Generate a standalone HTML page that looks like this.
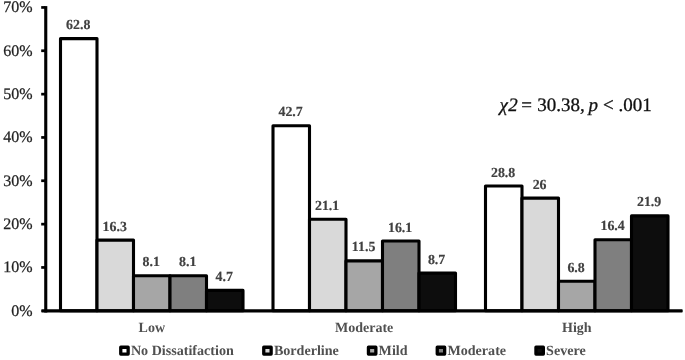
<!DOCTYPE html>
<html><head><meta charset="utf-8"><title>Chart</title>
<style>
html,body{margin:0;padding:0;background:#fff;}
svg{display:block;text-rendering:geometricPrecision;font-family:"Liberation Serif","Times New Roman",serif;}
.yl{font-size:16px;fill:#222;stroke:#222;stroke-width:0.25px;text-anchor:end;}
.dl{font-size:13.9px;font-weight:bold;fill:#404040;stroke:#404040;stroke-width:0.15px;text-anchor:middle;}
.cl{font-size:14px;font-weight:bold;fill:#505050;text-anchor:middle;}
.lg{font-size:14.1px;font-weight:bold;fill:#505050;}
.st{font-size:19px;fill:#111;stroke:#111;stroke-width:0.3px;}
</style></head><body>
<svg width="685" height="360" viewBox="0 0 685 360">
<rect width="685" height="360" fill="#fff"/>
<rect x="60.5" y="38.6" width="36.5" height="272.2" fill="#ffffff" stroke="#000" stroke-width="3.1" stroke-linejoin="round"/>
<text class="dl" x="78.2" y="28.6">62.8</text>
<rect x="97.0" y="240.1" width="36.5" height="70.7" fill="#d9d9d9" stroke="#000" stroke-width="3.1" stroke-linejoin="round"/>
<text class="dl" x="114.7" y="230.6">16.3</text>
<rect x="133.5" y="275.7" width="36.5" height="35.1" fill="#a6a6a6" stroke="#000" stroke-width="3.1" stroke-linejoin="round"/>
<text class="dl" x="151.2" y="266.2">8.1</text>
<rect x="170.0" y="275.7" width="36.5" height="35.1" fill="#7f7f7f" stroke="#000" stroke-width="3.1" stroke-linejoin="round"/>
<text class="dl" x="187.7" y="266.2">8.1</text>
<rect x="206.5" y="290.4" width="36.5" height="20.4" fill="#0d0d0d" stroke="#000" stroke-width="3.1" stroke-linejoin="round"/>
<text class="dl" x="224.2" y="280.9">4.7</text>
<text class="cl" x="151.8" y="332.3">Low</text>
<rect x="273.0" y="125.7" width="36.5" height="185.1" fill="#ffffff" stroke="#000" stroke-width="3.1" stroke-linejoin="round"/>
<text class="dl" x="290.6" y="116.2">42.7</text>
<rect x="309.5" y="219.3" width="36.5" height="91.5" fill="#d9d9d9" stroke="#000" stroke-width="3.1" stroke-linejoin="round"/>
<text class="dl" x="327.1" y="209.8">21.1</text>
<rect x="346.0" y="260.9" width="36.5" height="49.9" fill="#a6a6a6" stroke="#000" stroke-width="3.1" stroke-linejoin="round"/>
<text class="dl" x="363.6" y="251.4">11.5</text>
<rect x="382.5" y="241.0" width="36.5" height="69.8" fill="#7f7f7f" stroke="#000" stroke-width="3.1" stroke-linejoin="round"/>
<text class="dl" x="400.1" y="231.5">16.1</text>
<rect x="419.0" y="273.1" width="36.5" height="37.7" fill="#0d0d0d" stroke="#000" stroke-width="3.1" stroke-linejoin="round"/>
<text class="dl" x="436.6" y="263.6">8.7</text>
<text class="cl" x="364.2" y="332.3">Moderate</text>
<rect x="485.5" y="186.0" width="36.5" height="124.8" fill="#ffffff" stroke="#000" stroke-width="3.1" stroke-linejoin="round"/>
<text class="dl" x="503.1" y="176.5">28.8</text>
<rect x="522.0" y="198.1" width="36.5" height="112.7" fill="#d9d9d9" stroke="#000" stroke-width="3.1" stroke-linejoin="round"/>
<text class="dl" x="539.6" y="188.6">26</text>
<rect x="558.5" y="281.3" width="36.5" height="29.5" fill="#a6a6a6" stroke="#000" stroke-width="3.1" stroke-linejoin="round"/>
<text class="dl" x="576.1" y="271.8">6.8</text>
<rect x="595.0" y="239.7" width="36.5" height="71.1" fill="#7f7f7f" stroke="#000" stroke-width="3.1" stroke-linejoin="round"/>
<text class="dl" x="612.6" y="230.2">16.4</text>
<rect x="631.5" y="215.9" width="36.5" height="94.9" fill="#0d0d0d" stroke="#000" stroke-width="3.1" stroke-linejoin="round"/>
<text class="dl" x="649.1" y="206.4">21.9</text>
<text class="cl" x="576.8" y="332.3">High</text>
<rect x="44.2" y="6.1" width="3.1" height="306.4" fill="#000"/>
<rect x="41.2" y="309.2" width="641.5" height="3.3" rx="0.8" fill="#000"/>
<text class="yl" x="32.6" y="315.7">0%</text>
<rect x="41.2" y="266.1" width="4" height="2.7" fill="#000"/>
<text class="yl" x="32.6" y="272.3">10%</text>
<rect x="41.2" y="222.8" width="4" height="2.7" fill="#000"/>
<text class="yl" x="32.6" y="229.0">20%</text>
<rect x="41.2" y="179.4" width="4" height="2.7" fill="#000"/>
<text class="yl" x="32.6" y="185.7">30%</text>
<rect x="41.2" y="136.1" width="4" height="2.7" fill="#000"/>
<text class="yl" x="32.6" y="142.3">40%</text>
<rect x="41.2" y="92.8" width="4" height="2.7" fill="#000"/>
<text class="yl" x="32.6" y="99.0">50%</text>
<rect x="41.2" y="49.4" width="4" height="2.7" fill="#000"/>
<text class="yl" x="32.6" y="55.6">60%</text>
<rect x="41.2" y="6.1" width="4" height="2.7" fill="#000"/>
<text class="yl" x="32.6" y="12.3">70%</text>
<text class="st" y="111.4"><tspan x="499.4" font-style="italic">χ</tspan><tspan x="508.3" font-style="italic">2</tspan><tspan x="521.2">=</tspan><tspan x="537.2">30.38,</tspan><tspan x="588.4" font-style="italic">p</tspan><tspan x="603">&lt;</tspan><tspan x="618.5">.001</tspan></text>
<rect x="120.75" y="347.25" width="7.4" height="6.8" fill="#ffffff" stroke="#000" stroke-width="3.3" stroke-linejoin="round"/>
<text class="lg" x="130.9" y="355.2">No Dissatifaction</text>
<rect x="263.75" y="347.25" width="7.4" height="6.8" fill="#d9d9d9" stroke="#000" stroke-width="3.3" stroke-linejoin="round"/>
<text class="lg" x="273.9" y="355.2">Borderline</text>
<rect x="368.45" y="347.25" width="7.4" height="6.8" fill="#a6a6a6" stroke="#000" stroke-width="3.3" stroke-linejoin="round"/>
<text class="lg" x="378.6" y="355.2">Mild</text>
<rect x="437.25" y="347.25" width="7.4" height="6.8" fill="#7f7f7f" stroke="#000" stroke-width="3.3" stroke-linejoin="round"/>
<text class="lg" x="447.4" y="355.2">Moderate</text>
<rect x="535.95" y="347.25" width="7.4" height="6.8" fill="#0d0d0d" stroke="#000" stroke-width="3.3" stroke-linejoin="round"/>
<text class="lg" x="546.1" y="355.2">Severe</text>
</svg></body></html>
